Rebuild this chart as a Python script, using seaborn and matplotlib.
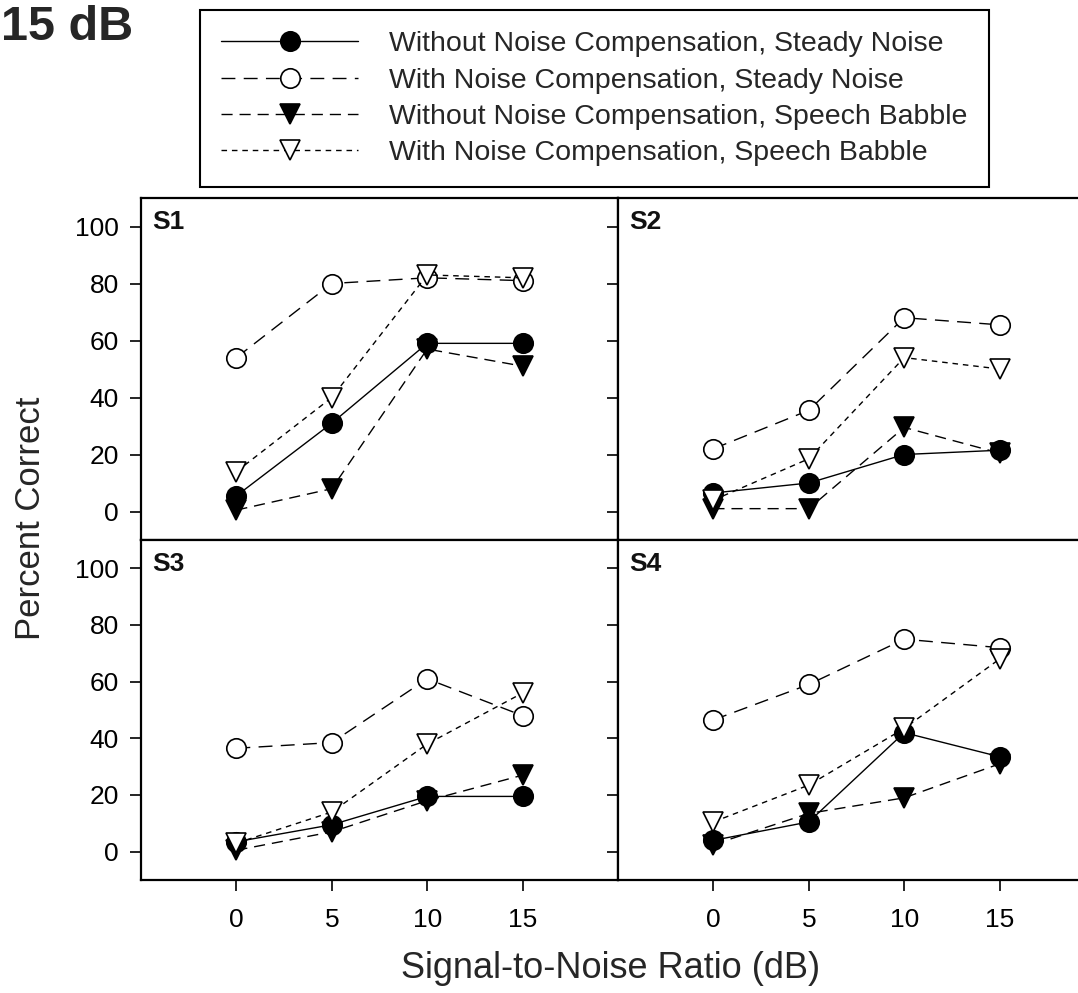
import matplotlib
matplotlib.use("Agg")
import matplotlib.pyplot as plt
import seaborn as sns
import pandas as pd

# ---------------- data ----------------
snr = [0, 5, 10, 15]
subjects = ["S1", "S2", "S3", "S4"]
conditions = [
    "Without Noise Compensation, Steady Noise",
    "With Noise Compensation, Steady Noise",
    "Without Noise Compensation, Speech Babble",
    "With Noise Compensation, Speech Babble",
]

s1_wo_steady = [5.5, 31, 59, 59]
s1_w_steady = [54, 80, 82, 81]
s1_wo_babble = [0.5, 8, 57, 51]
s1_w_babble = [14, 40, 83, 82]

s2_wo_steady = [6.5, 10, 20, 21.5]
s2_w_steady = [22, 35.5, 68, 65.5]
s2_wo_babble = [1, 1, 29.5, 20.5]
s2_w_babble = [4, 18.5, 54, 50]

s3_wo_steady = [3.5, 9.5, 19.5, 19.5]
s3_w_steady = [36.5, 38.5, 61, 48]
s3_wo_babble = [0.5, 7, 18, 27]
s3_w_babble = [3, 14, 38, 56]

s4_wo_steady = [4, 10.5, 42, 33.5]
s4_w_steady = [46.5, 59, 75, 72]
s4_wo_babble = [2.5, 13.5, 19, 31]
s4_w_babble = [10.5, 23.5, 43.5, 68]

values = {
    "S1": [s1_wo_steady, s1_w_steady, s1_wo_babble, s1_w_babble],
    "S2": [s2_wo_steady, s2_w_steady, s2_wo_babble, s2_w_babble],
    "S3": [s3_wo_steady, s3_w_steady, s3_wo_babble, s3_w_babble],
    "S4": [s4_wo_steady, s4_w_steady, s4_wo_babble, s4_w_babble],
}

rows = []
for subj in subjects:
    for cond, vals in zip(conditions, values[subj]):
        for x, v in zip(snr, vals):
            rows.append({"subject": subj, "condition": cond, "snr": x, "pct": v})
df = pd.DataFrame(rows)

# ---------------- styles ----------------
sns.set_theme(style="white")
plt.rcParams["font.family"] = ["Liberation Sans", "DejaVu Sans"]

styles = {
    conditions[0]: dict(marker="o", markerfacecolor="black", linestyle="-", markersize=14),
    conditions[1]: dict(marker="o", markerfacecolor="white", linestyle=(0, (10, 6)), markersize=14),
    conditions[2]: dict(marker="v", markerfacecolor="black", linestyle=(0, (8, 5)), markersize=15),
    conditions[3]: dict(marker="v", markerfacecolor="white", linestyle=(0, (4, 3.5)), markersize=15),
}

W, H = 1078, 993
fig = plt.figure(figsize=(W / 100, H / 100), dpi=100)

def fx(px):
    return px / W

def fy(py):
    return 1 - py / H

left_x, mid_x, right_x = 141, 618, 1095
top_y, mid_y, bot_y = 198, 540, 880

positions = {
    "S1": [fx(left_x), fy(mid_y), fx(mid_x - left_x), (mid_y - top_y) / H],
    "S2": [fx(mid_x), fy(mid_y), fx(right_x - mid_x), (mid_y - top_y) / H],
    "S3": [fx(left_x), fy(bot_y), fx(mid_x - left_x), (bot_y - mid_y) / H],
    "S4": [fx(mid_x), fy(bot_y), fx(right_x - mid_x), (bot_y - mid_y) / H],
}

axes = {}
for subj in subjects:
    ax = fig.add_axes(positions[subj])
    axes[subj] = ax
    sub = df[df["subject"] == subj]
    for cond in conditions:
        st = styles[cond]
        sns.lineplot(
            data=sub[sub["condition"] == cond], x="snr", y="pct", ax=ax,
            color="black", linewidth=1.0, markeredgecolor="black",
            markeredgewidth=1.2, errorbar=None, legend=False, **st,
        )
    ax.set_xlim(-5, 20)
    ax.set_ylim(-10, 110)
    ax.set_xticks(snr)
    ax.set_yticks([0, 20, 40, 60, 80, 100])
    ax.set_xlabel("")
    ax.set_ylabel("")
    for sp in ax.spines.values():
        sp.set_visible(True)
        sp.set_color("black")
        sp.set_linewidth(1.6)
    ax.tick_params(axis="both", which="major", direction="out", length=8,
                   width=1.2, color="black", labelsize=19, labelcolor="black",
                   left=True, bottom=True, pad=8)
    if subj in ("S2", "S4"):
        ax.tick_params(axis="y", labelleft=False)
    if subj in ("S1", "S2"):
        ax.tick_params(axis="x", labelbottom=False)
    else:
        ax.tick_params(axis="x", pad=12)
    ax.text(11 / 477, 1 - 12 / 342, subj, transform=ax.transAxes, ha="left",
            va="top", fontsize=19, fontweight="bold", color="#111111")
    ax.grid(False)

# legend
handles = axes["S1"].get_lines()[:4]
leg = fig.legend(
    handles, conditions, loc="upper left",
    bbox_to_anchor=(fx(200), fy(10)), borderaxespad=0,
    frameon=True, fancybox=False, edgecolor="black", framealpha=1,
    fontsize=20.5, numpoints=1, handlelength=4.8, handletextpad=1.1,
    labelspacing=0.36, borderpad=0.75,
)
leg.get_frame().set_linewidth(1.5)

fig.text(fx(31), fy(518), "Percent Correct", rotation=90, ha="center",
         va="center", fontsize=25)
fig.text(fx(611), fy(968), "Signal-to-Noise Ratio (dB)", ha="center",
         va="center", fontsize=26)
fig.text(fx(1), fy(27), "15 dB", ha="left", va="center", fontsize=35,
         fontweight="bold")

fig.savefig("out.png", dpi=100)
